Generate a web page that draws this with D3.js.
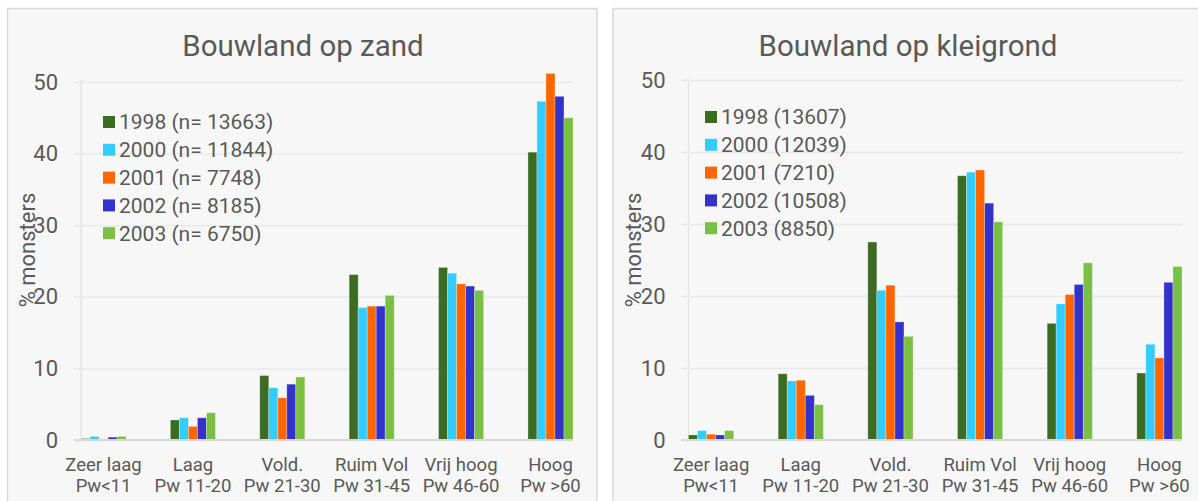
<!DOCTYPE html>
<meta charset="utf-8">
<style>
body { margin: 0; background: #fff; }
text { font-family: Roboto, sans-serif; fill: #595959; }
.grid line { stroke: #e8e8e8; stroke-width: 1.5px; }
.grid path { display: none; }
</style>
<svg width="1198" height="501"></svg>
<script src="https://cdn.jsdelivr.net/npm/d3@7"></script>
<script>

// categorieen (twee regels per label)
var catTop = ["Zeer laag", "Laag", "Vold.", "Ruim Vol", "Vrij hoog", "Hoog"];
var catBottom = ["Pw<11", "Pw 11-20", "Pw 21-30", "Pw 31-45", "Pw 46-60", "Pw >60"];

var years = ["1998", "2000", "2001", "2002", "2003"];
var colors = ["#3c6b22", "#33ccff", "#ff6600", "#3333cc", "#7bbf43"];

var yTicks = [0, 10, 20, 30, 40, 50];

// bouwland op zand
var zandLegend = ["1998 (n= 13663)", "2000 (n= 11844)", "2001 (n= 7748)", "2002 (n= 8185)", "2003 (n= 6750)"];
var zand1998 = [0.2, 2.8, 9.0, 23.1, 24.1, 40.2];
var zand2000 = [0.5, 3.1, 7.3, 18.5, 23.3, 47.3];
var zand2001 = [0.1, 1.9, 5.9, 18.7, 21.8, 51.2];
var zand2002 = [0.4, 3.1, 7.8, 18.7, 21.5, 48.0];
var zand2003 = [0.5, 3.8, 8.8, 20.2, 20.9, 45.0];

// bouwland op kleigrond
var kleiLegend = ["1998 (13607)", "2000 (12039)", "2001 (7210)", "2002 (10508)", "2003 (8850)"];
var klei1998 = [0.7, 9.2, 27.5, 36.7, 16.2, 9.3];
var klei2000 = [1.3, 8.2, 20.8, 37.2, 18.9, 13.3];
var klei2001 = [0.8, 8.3, 21.5, 37.5, 20.2, 11.4];
var klei2002 = [0.7, 6.2, 16.4, 32.9, 21.6, 21.9];
var klei2003 = [1.3, 4.9, 14.4, 30.3, 24.6, 24.1];

var svg = d3.select("svg");

function drawChart(opt) {
  var series = opt.series;

  svg.append("rect")
      .attr("x", opt.panel[0]).attr("y", 8.5)
      .attr("width", opt.panel[1] - opt.panel[0]).attr("height", 520)
      .attr("fill", "#f7f7f7")
      .attr("stroke", "#d9d9d9")
      .attr("stroke-width", 1.5);

  var x = d3.scaleBand()
      .domain(d3.range(catTop.length))
      .range([opt.left, opt.right])
      .paddingInner(0.496)
      .paddingOuter(0);

  var x1 = d3.scaleBand()
      .domain(years)
      .range([0, x.bandwidth()]);

  var y = d3.scaleLinear().domain([0, 50]).range([440, opt.top]);

  var g = svg.append("g");

  // titel
  g.append("text")
      .attr("x", opt.titleX)
      .attr("y", 56)
      .attr("text-anchor", "middle")
      .style("font-size", "29.5px")
      .text(opt.title);

  // rasterlijnen + y labels
  g.append("g")
      .attr("class", "grid")
      .attr("transform", "translate(" + (opt.left - 7) + ",0)")
      .call(d3.axisLeft(y).tickValues(yTicks).tickSize(-(opt.right - opt.left + 7)).tickPadding(16))
      .selectAll("text")
        .style("font-size", "22px")
        .attr("fill", "#595959");

  g.append("line")
      .attr("x1", opt.left).attr("x2", opt.left)
      .attr("y1", opt.top - 2).attr("y2", 440)
      .attr("stroke", "#e6e6e6")
      .attr("stroke-width", 1.5);

  // y-as titel
  g.append("text")
      .attr("transform", "translate(" + opt.yTitleX + ",250) rotate(-90)")
      .attr("text-anchor", "middle")
      .style("font-size", "22px")
      .text("% monsters");

  // staven
  var groups = g.selectAll(".cat")
    .data(catTop.map(function(c, i) { return i; }))
    .enter().append("g")
      .attr("class", "cat")
      .attr("transform", function(i) { return "translate(" + x(i) + ",0)"; });

  groups.selectAll("rect")
    .data(function(i) { return series.map(function(s, k) { return {year: years[k], value: s[i], color: colors[k]}; }); })
    .enter().append("rect")
      .attr("x", function(d) { return x1(d.year); })
      .attr("width", x1.bandwidth())
      .attr("y", function(d) { return y(d.value); })
      .attr("height", function(d) { return y(0) - y(d.value); })
      .attr("fill", function(d) { return d.color; })
      .attr("stroke", "rgba(255,255,255,0.35)")
      .attr("stroke-width", 0.8);

  // basislijn
  g.append("line")
      .attr("x1", opt.left - 7).attr("x2", opt.right)
      .attr("y1", y(0)).attr("y2", y(0))
      .attr("stroke", "#d9d9d9")
      .attr("stroke-width", 2);

  // x labels
  var lab = g.selectAll(".xlab")
    .data(catTop.map(function(c, i) { return i; }))
    .enter().append("text")
      .attr("class", "xlab")
      .attr("text-anchor", "middle")
      .style("font-size", "18.5px");

  lab.append("tspan")
      .attr("x", function(i) { return x(i) + x.bandwidth() / 2; })
      .attr("y", 471)
      .text(function(i) { return catTop[i]; });

  lab.append("tspan")
      .attr("x", function(i) { return x(i) + x.bandwidth() / 2; })
      .attr("y", 492)
      .text(function(i) { return catBottom[i]; });

  // legenda
  var leg = g.selectAll(".leg")
    .data(opt.legend)
    .enter().append("g")
      .attr("class", "leg")
      .attr("transform", function(d, k) { return "translate(" + opt.legX + "," + (opt.legY + k * 27.8) + ")"; });

  leg.append("rect")
      .attr("x", 0).attr("y", -6)
      .attr("width", 12).attr("height", 12)
      .attr("fill", function(d, k) { return colors[k]; });

  leg.append("text")
      .attr("x", 16)
      .attr("dy", "0.35em")
      .style("font-size", "21px")
      .text(function(d) { return d; });
}

drawChart({
  panel: [7.5, 597],
  left: 81, right: 573, top: 82,
  title: "Bouwland op zand", titleX: 303,
  yTitleX: 35,
  legend: zandLegend, legX: 103, legY: 122,
  series: [zand1998, zand2000, zand2001, zand2002, zand2003]
});

drawChart({
  panel: [613, 1215],
  left: 688.5, right: 1182, top: 80,
  title: "Bouwland op kleigrond", titleX: 908,
  yTitleX: 641,
  legend: kleiLegend, legX: 705, legY: 117,
  series: [klei1998, klei2000, klei2001, klei2002, klei2003]
});

</script>
